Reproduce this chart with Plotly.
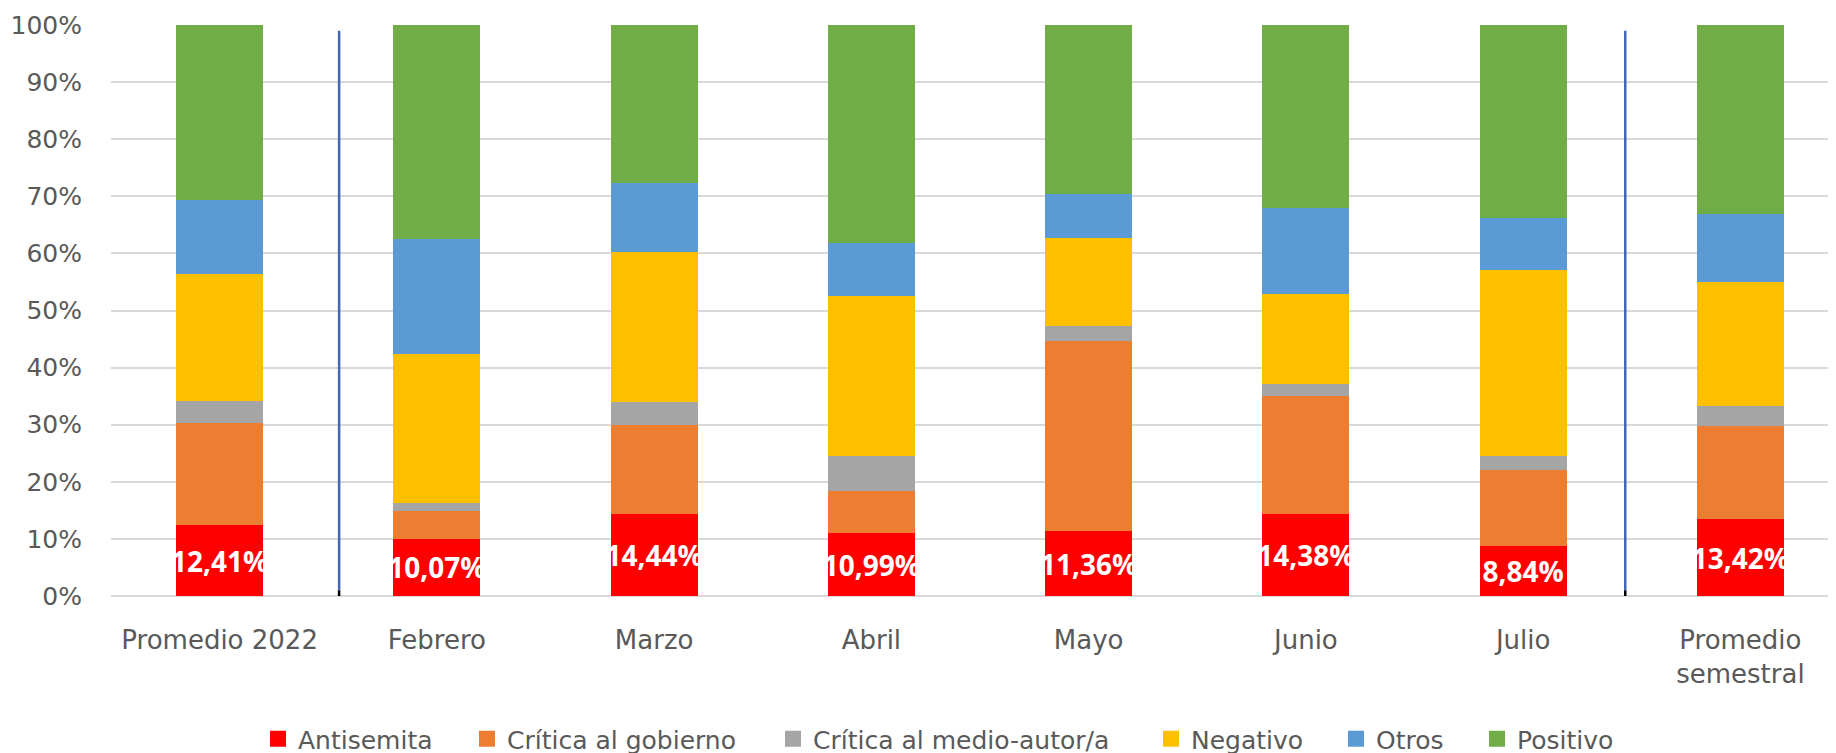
import plotly.graph_objects as go

# ---------------- data ----------------
categories = ["Promedio 2022", "Febrero", "Marzo", "Abril", "Mayo", "Junio", "Julio", "Promedio semestral"]
tick_labels = ["Promedio 2022", "Febrero", "Marzo", "Abril", "Mayo", "Junio", "Julio", "Promedio<br>semestral"]

antisemita = [12.41, 10.07, 14.44, 10.99, 11.36, 14.38, 8.84, 13.42]
critica_gobierno = [17.95, 4.85, 15.5, 7.4, 33.3, 20.6, 13.2, 16.3]
critica_medio = [3.85, 1.45, 4.1, 6.2, 2.6, 2.1, 2.4, 3.5]
negativo = [22.2, 26.0, 26.2, 27.9, 15.4, 15.8, 32.6, 21.7]
otros = [13.0, 20.2, 12.1, 9.4, 7.8, 15.1, 9.1, 11.9]
positivo = [30.59, 37.43, 27.66, 38.11, 29.54, 32.02, 33.86, 33.18]

y_ticks = [0, 10, 20, 30, 40, 50, 60, 70, 80, 90, 100]

series = [
    ("Antisemita", antisemita, "#FF0000"),
    ("Crítica al gobierno", critica_gobierno, "#ED7D31"),
    ("Crítica al medio-autor/a", critica_medio, "#A5A5A5"),
    ("Negativo", negativo, "#FFC000"),
    ("Otros", otros, "#5B9BD5"),
    ("Positivo", positivo, "#70AD47"),
]

# ---------------- style ----------------
OFF = 8                      # page body margin of the generated html
W, H = 1836 - OFF, 753 - OFF
FONT = "DejaVu Sans"
GRAY = "#595959"
legend_square_left = [268, 477, 783, 1161, 1346, 1487]  # page pixel positions of legend squares
legend_center_y = 739
separators = [0.55, 6.47]  # in category units

fig = go.Figure()
for i, (name, vals, color) in enumerate(series):
    lg = "legend" if i == 0 else f"legend{i+1}"
    kw = {}
    if name == "Antisemita":
        kw = dict(
            text=[f"{v:.2f}".replace(".", ",") + "%" for v in vals],
            textposition="inside",
            insidetextanchor="middle",
            constraintext="none",
            textfont=dict(family="Open Sans", size=28, color="white", weight="bold"),
            textangle=0,
        )
    fig.add_trace(go.Bar(
        x=categories, y=vals, name=name,
        marker=dict(color=color, line=dict(width=0)),
        showlegend=False, cliponaxis=False, hoverinfo="skip", **kw))
    # legend entry with a larger square key
    fig.add_trace(go.Scatter(
        x=[None], y=[None], mode="markers", name=name, legend=lg,
        marker=dict(symbol="square", size=16, color=color, line=dict(width=0)),
        hoverinfo="skip"))

for sx in separators:
    fig.add_shape(type="line", xref="x", yref="y", x0=sx, x1=sx, y0=1, y1=99,
                  line=dict(color="#4167B8", width=2.5), layer="above")
    fig.add_shape(type="line", xref="x", yref="y", x0=sx, x1=sx, y0=-1.4, y1=1,
                  line=dict(color="#000000", width=2.5), layer="above")

layout_legends = {}
for i, sl in enumerate(legend_square_left):
    key = "legend" if i == 0 else f"legend{i+1}"
    layout_legends[key] = dict(
        xref="container", yref="container",
        x=(sl - OFF - 10) / W, xanchor="left",
        y=1 - (legend_center_y - OFF) / H, yanchor="middle",
        orientation="h", bgcolor="rgba(0,0,0,0)", borderwidth=0,
        font=dict(family=FONT, size=25, color=GRAY),
        itemclick=False, itemdoubleclick=False,
    )

fig.update_layout(
    width=W, height=H,
    barmode="stack", bargap=0.6,
    plot_bgcolor="white", paper_bgcolor="white",
    margin=dict(l=111 - OFF, r=0, t=25 - OFF, b=H - (596 - OFF), autoexpand=False),
    font=dict(family=FONT, color=GRAY),
    showlegend=True,
    **layout_legends,
)

fig.update_xaxes(
    type="category", range=[-0.5, 7.44],
    tickvals=categories, ticktext=tick_labels,
    tickfont=dict(family=FONT, size=26, color=GRAY),
    showgrid=False, showline=False, ticks="", ticklabelstandoff=26,
)
fig.update_yaxes(
    range=[0, 100], tickvals=y_ticks, ticktext=[f"{t}%" for t in y_ticks],
    tickfont=dict(family=FONT, size=25, color=GRAY),
    showgrid=True, gridcolor="#D9D9D9", gridwidth=1.5,
    zeroline=True, zerolinecolor="#D9D9D9", zerolinewidth=1.5,
    showline=False, ticks="", ticklabelstandoff=28,
)

fig.write_html("out.html")
